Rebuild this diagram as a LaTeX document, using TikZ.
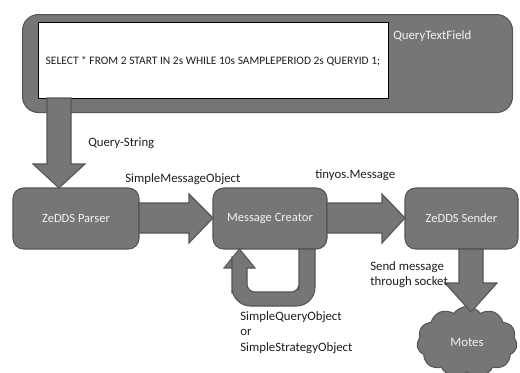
\documentclass[tikz,border=0pt]{standalone}
\usepackage{fontspec}
\setmainfont{Carlito}
\usetikzlibrary{shapes.symbols}
\definecolor{boxgray}{HTML}{767676}
\definecolor{edgegray}{HTML}{555555}
\definecolor{labtext}{HTML}{1E1E1E}
\definecolor{boxtext}{HTML}{F2F2F2}
\tikzset{
  blk/.style={fill=boxgray, draw=edgegray, line width=0.8pt},
  proc/.style={blk, rounded corners=8pt, inner sep=0pt, text=boxtext, font=\fontsize{9.4}{11}\selectfont},
  lab/.style={text=labtext, font=\fontsize{9.6}{11.5}\selectfont, inner sep=0pt},
  barrow/.style={blk, line join=miter},
}
\begin{document}
\begin{tikzpicture}[x=0.75pt,y=-0.75pt]
\useasboundingbox (0,0) rectangle (520,372);
% top panel
\node[blk, rounded corners=12pt, minimum width=490*0.75pt, minimum height=98*0.75pt, anchor=north west, inner sep=0pt] (panel) at (22,14) {};
\node[fill=white, draw=black, line width=1.1pt, minimum width=350*0.75pt, minimum height=76*0.75pt, anchor=north west, inner sep=0pt] (field) at (38,22) {};
\node[font=\fontsize{8.6}{10}\selectfont, text=labtext, inner sep=0pt] (query) at (213,61) {SELECT * FROM 2 START IN 2s WHILE 10s SAMPLEPERIOD 2s QUERYID 1;};
\node[lab, text=boxtext, anchor=west] (qtf) at (393,36) {QueryTextField};
% process boxes
\node[proc, minimum width=126*0.75pt, minimum height=61*0.75pt] (parser) at (76,218.5) {ZeDDS Parser};
\node[proc, minimum width=114*0.75pt, minimum height=61*0.75pt] (creator) at (270,218.5) {Message Creator};
\node[proc, minimum width=113*0.75pt, minimum height=61*0.75pt] (sender) at (461.5,218.5) {ZeDDS Sender};
\node[cloud, cloud puffs=11, cloud puff arc=110, aspect=1.6, blk, minimum width=100*0.75pt, minimum height=71*0.75pt, inner sep=0pt, text=boxtext, font=\fontsize{9.6}{11}\selectfont] (motes) at (467,342) {Motes};
% block arrows
\draw[barrow] (47,98) -- (71,98) -- (71,164) -- (85,164) -- (59,188) -- (33,164) -- (47,164) -- cycle;
\draw[barrow] (139,203) -- (189,203) -- (189,194) -- (213,218) -- (189,243) -- (189,233) -- (139,233) -- cycle;
\draw[barrow] (327,203) -- (382,203) -- (382,194) -- (405,218) -- (382,243) -- (382,233) -- (327,233) -- cycle;
\draw[barrow] (459,249) -- (483,249) -- (483,283) -- (497,283) -- (471,312) -- (445,283) -- (459,283) -- cycle;
\draw[barrow] (315,249) -- (315,275) [rounded corners=14pt] -- (315,306) -- (232,306) -- (232,275) [sharp corners] -- (232,268) -- (224,268) -- (239.5,249) -- (255,268) -- (247,268) -- (247,282) [rounded corners=6pt] -- (247,292) -- (299,292) -- (299,282) [sharp corners] -- (299,249) -- cycle;
% labels
\node[lab, anchor=west] (l1) at (88,143) {Query-String};
\node[lab, anchor=west] (l2) at (125,179) {SimpleMessageObject};
\node[lab, anchor=west] (l3) at (315,175) {tinyos.Message};
\node[lab, anchor=north west, align=left, font=\fontsize{9.6}{11.2}\selectfont] (l4) at (370,261) {Send message\\through socket};
\node[lab, anchor=north west, align=left, font=\fontsize{9.6}{11.6}\selectfont] (l5) at (240,311) {SimpleQueryObject\\or\\SimpleStrategyObject};
\end{tikzpicture}
\end{document}
